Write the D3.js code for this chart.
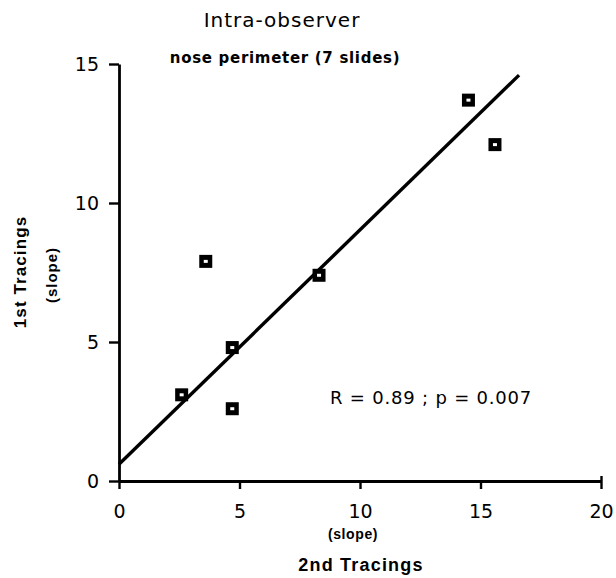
<!DOCTYPE html>
<html>
<head>
<meta charset="utf-8">
<script src="https://cdn.jsdelivr.net/npm/d3@7"></script>
<style>
  body { margin: 0; background: #fff; }
  svg text { fill: #000; }
</style>
</head>
<body>
<div id="chart"></div>
<script>
// data
var secondTracings = [2.6, 3.6, 4.7, 4.7, 8.3, 14.5, 15.6];
var firstTracings  = [3.1, 7.9, 4.8, 2.6, 7.4, 13.7, 12.1];
var fitX = [0, 16.6];
var fitY = [0.6, 14.6];
var xTicks = [0, 5, 10, 15, 20];
var yTicks = [0, 5, 10, 15];

var width = 616, height = 578;
var thin = 'DejaVu Sans, Verdana, sans-serif';
var bold = 'Liberation Sans, Arial, sans-serif';

var svg = d3.select('#chart').append('svg')
	.attr('width', width)
	.attr('height', height);

// scales
var xScale = d3.scaleLinear().domain([0, 20]).range([119, 601]);
var yScale = d3.scaleLinear().domain([0, 15]).range([481, 64]);

// x axis
var xAxis = d3.axisBottom(xScale)
	.tickValues(xTicks)
	.tickSize(8)
	.tickPadding(16)
	.tickSizeOuter(0);

var gx = svg.append('g')
	.attr('class', 'x-axis')
	.attr('transform', 'translate(0,' + yScale(0) + ')')
	.call(xAxis);

// y axis
var yAxis = d3.axisLeft(yScale)
	.tickValues(yTicks)
	.tickSize(10)
	.tickPadding(10)
	.tickSizeOuter(0);

var gy = svg.append('g')
	.attr('class', 'y-axis')
	.attr('transform', 'translate(' + xScale(0) + ',0)')
	.call(yAxis);

[gx, gy].forEach(function(g){
	g.select('.domain').attr('stroke', '#000').attr('stroke-width', 2.8);
	g.selectAll('.tick line').attr('stroke', '#000').attr('stroke-width', 2.4);
	g.selectAll('.tick text')
		.style('font-family', thin)
		.style('font-size', '19px')
		.attr('fill', '#000');
});

// the end tick at 20 sticks up a bit above the axis
gx.selectAll('.tick line').filter(function(d){ return d === 20; })
	.attr('y1', -5);

// fit line
var line = d3.line()
	.x(function(d){ return xScale(d[0]); })
	.y(function(d){ return yScale(d[1]); });

svg.append('path')
	.datum(d3.zip(fitX, fitY))
	.attr('d', line)
	.attr('fill', 'none')
	.attr('stroke', '#000')
	.attr('stroke-width', 3.4);

// points: black squares with a small white hole
var pts = d3.zip(secondTracings, firstTracings);
var dots = svg.append('g').attr('class', 'data')
	.selectAll('g').data(pts)
	.enter().append('g')
	.attr('transform', function(d){ return 'translate(' + xScale(d[0]) + ',' + yScale(d[1]) + ')'; });

dots.append('rect')
	.attr('x', -6.5).attr('y', -6.5)
	.attr('width', 13).attr('height', 13)
	.attr('fill', '#000');

dots.append('rect')
	.attr('x', -2).attr('y', -1.5)
	.attr('width', 4).attr('height', 3)
	.attr('fill', '#fff');

// titles
svg.append('text')
	.attr('x', 282).attr('y', 27)
	.attr('text-anchor', 'middle')
	.style('font-family', thin)
	.style('font-size', '20px')
	.style('letter-spacing', '1px')
	.text('Intra-observer');

svg.append('text')
	.attr('x', 285).attr('y', 63)
	.attr('text-anchor', 'middle')
	.style('font-family', thin)
	.style('font-size', '15px')
	.style('font-weight', 'bold')
	.style('letter-spacing', '0.7px')
	.text('nose perimeter (7 slides)');

// x axis titles
svg.append('text')
	.attr('x', 353).attr('y', 539)
	.attr('text-anchor', 'middle')
	.style('font-family', bold)
	.style('font-size', '14px')
	.style('font-weight', 'bold')
	.style('letter-spacing', '0.6px')
	.text('(slope)');

svg.append('text')
	.attr('x', 361).attr('y', 571)
	.attr('text-anchor', 'middle')
	.style('font-family', bold)
	.style('font-size', '18px')
	.style('font-weight', 'bold')
	.style('letter-spacing', '1.2px')
	.text('2nd Tracings');

// y axis titles
svg.append('text')
	.attr('transform', 'translate(26,272) rotate(-90)')
	.attr('text-anchor', 'middle')
	.style('font-family', bold)
	.style('font-size', '17px')
	.style('font-weight', 'bold')
	.style('letter-spacing', '1.1px')
	.text('1st Tracings');

svg.append('text')
	.attr('transform', 'translate(57,275) rotate(-90)')
	.attr('text-anchor', 'middle')
	.style('font-family', bold)
	.style('font-size', '15px')
	.style('font-weight', 'bold')
	.style('letter-spacing', '1px')
	.text('(slope)');

// annotation
svg.append('text')
	.attr('x', 330).attr('y', 404)
	.style('font-family', thin)
	.style('font-size', '18px')
	.style('letter-spacing', '0.8px')
	.text('R = 0.89 ; p = 0.007');
</script>
</body>
</html>
